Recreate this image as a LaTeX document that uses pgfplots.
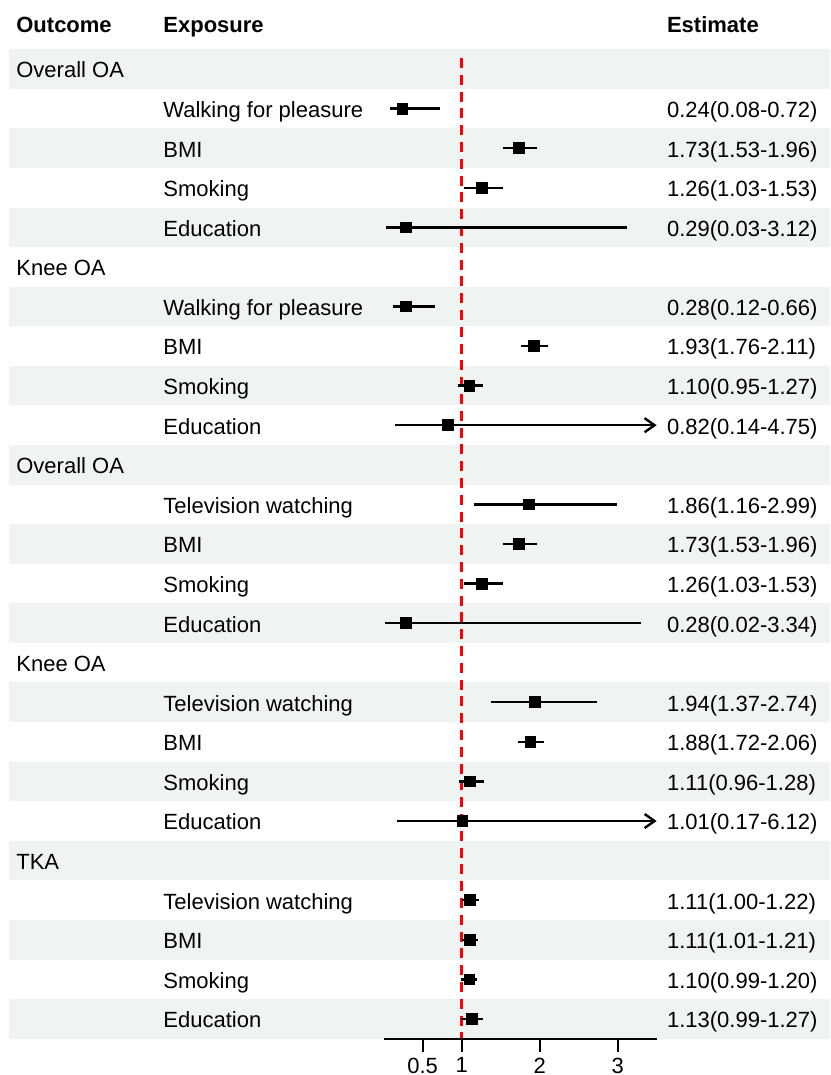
\documentclass[border=0pt]{standalone}
\usepackage{pgfplots}
\pgfplotsset{compat=1.18}
\usepackage{pgfplotstable}
\usepackage{fontspec}
\setmainfont{Liberation Sans}
\usetikzlibrary{arrows.meta}
\definecolor{band}{HTML}{EFF3F2}
\newcommand\fs{\fontsize{11}{13}\selectfont}
\pgfplotstableread{
row est lo hi
2 0.24 0.08 0.72
3 1.73 1.53 1.96
4 1.26 1.03 1.53
5 0.29 0.03 3.12
7 0.28 0.12 0.66
8 1.93 1.76 2.11
9 1.10 0.95 1.27
10 0.82 0.14 4.75
12 1.86 1.16 2.99
13 1.73 1.53 1.96
14 1.26 1.03 1.53
15 0.28 0.02 3.34
17 1.94 1.37 2.74
18 1.88 1.72 2.06
19 1.11 0.96 1.28
20 1.01 0.17 6.12
22 1.11 1.00 1.22
23 1.11 1.01 1.21
24 1.10 0.99 1.20
25 1.13 0.99 1.27
}\data
\begin{document}
\begin{tikzpicture}
\begin{axis}[
 scale only axis, width=136.5pt, height=494.75pt,
 xmin=0, xmax=3.5, ymin=-25.5, ymax=-0.5,
 axis x line=bottom, axis y line=none,
 axis line style={-, line width=1pt, black},
 xtick={0.5,1,2,3}, xticklabels={0.5,1,2,3},
 tick align=outside, major tick length=6.5pt,
 tick style={line width=1pt, black},
 xticklabel style={font=\fs, anchor=north, inner sep=0pt, yshift=-2.85pt},
 /pgf/number format/assume math mode=true,
 clip=false, axis on top,
]
% background bands
\fill[band] (axis cs:-4.804,-0.5) rectangle (axis cs:5.722,-1.5);
\fill[band] (axis cs:-4.804,-2.5) rectangle (axis cs:5.722,-3.5);
\fill[band] (axis cs:-4.804,-4.5) rectangle (axis cs:5.722,-5.5);
\fill[band] (axis cs:-4.804,-6.5) rectangle (axis cs:5.722,-7.5);
\fill[band] (axis cs:-4.804,-8.5) rectangle (axis cs:5.722,-9.5);
\fill[band] (axis cs:-4.804,-10.5) rectangle (axis cs:5.722,-11.5);
\fill[band] (axis cs:-4.804,-12.5) rectangle (axis cs:5.722,-13.5);
\fill[band] (axis cs:-4.804,-14.5) rectangle (axis cs:5.722,-15.5);
\fill[band] (axis cs:-4.804,-16.5) rectangle (axis cs:5.722,-17.5);
\fill[band] (axis cs:-4.804,-18.5) rectangle (axis cs:5.722,-19.5);
\fill[band] (axis cs:-4.804,-20.5) rectangle (axis cs:5.722,-21.5);
\fill[band] (axis cs:-4.804,-22.5) rectangle (axis cs:5.722,-23.5);
\fill[band] (axis cs:-4.804,-24.5) rectangle (axis cs:5.722,-25.5);
% reference line
\addplot[red, line width=1.2pt, dash pattern=on 5pt off 3.4pt] coordinates {(1,-0.722) (1,-25.5)};
% CIs
\addplot[black, only marks, mark=none,
  error bars/.cd, x dir=both, x explicit, error mark=none,
  error bar style={black, solid, line width=1.2pt}]
  table[x=est, y expr=-\thisrow{row},
        x error plus expr={min(\thisrow{hi},3.3)-\thisrow{est}},
        x error minus expr={\thisrow{est}-\thisrow{lo}}] {\data};
\addplot[black, line width=1.2pt, -{Straight Barb[length=5pt,width=7pt]}] coordinates {(3.2,-10) (3.5,-10)};
\addplot[black, line width=1.2pt, -{Straight Barb[length=5pt,width=7pt]}] coordinates {(3.2,-20) (3.5,-20)};
% estimates
\addplot[black, only marks, mark=square*, mark size=2.7pt] table[x=est, y expr=-\thisrow{row}] {\data};
% header
\node[anchor=base west, inner sep=0pt, font=\fs\bfseries] at (axis cs:-4.714,-0.073) {Outcome};
\node[anchor=base west, inner sep=0pt, font=\fs\bfseries] at (axis cs:-2.829,-0.073) {Exposure};
\node[anchor=base west, inner sep=0pt, font=\fs\bfseries] at (axis cs:3.628,-0.073) {Estimate};
% outcome labels
\node[anchor=base west, inner sep=0pt, font=\fs] at (axis cs:-4.714,-1.225) {Overall OA};
\node[anchor=base west, inner sep=0pt, font=\fs] at (axis cs:-4.714,-6.225) {Knee OA};
\node[anchor=base west, inner sep=0pt, font=\fs] at (axis cs:-4.714,-11.225) {Overall OA};
\node[anchor=base west, inner sep=0pt, font=\fs] at (axis cs:-4.714,-16.225) {Knee OA};
\node[anchor=base west, inner sep=0pt, font=\fs] at (axis cs:-4.714,-21.225) {TKA};
% exposure labels
\node[anchor=base west, inner sep=0pt, font=\fs] at (axis cs:-2.829,-2.225) {Walking for pleasure};
\node[anchor=base west, inner sep=0pt, font=\fs] at (axis cs:-2.829,-3.225) {BMI};
\node[anchor=base west, inner sep=0pt, font=\fs] at (axis cs:-2.829,-4.225) {Smoking};
\node[anchor=base west, inner sep=0pt, font=\fs] at (axis cs:-2.829,-5.225) {Education};
\node[anchor=base west, inner sep=0pt, font=\fs] at (axis cs:-2.829,-7.225) {Walking for pleasure};
\node[anchor=base west, inner sep=0pt, font=\fs] at (axis cs:-2.829,-8.225) {BMI};
\node[anchor=base west, inner sep=0pt, font=\fs] at (axis cs:-2.829,-9.225) {Smoking};
\node[anchor=base west, inner sep=0pt, font=\fs] at (axis cs:-2.829,-10.225) {Education};
\node[anchor=base west, inner sep=0pt, font=\fs] at (axis cs:-2.829,-12.225) {Television watching};
\node[anchor=base west, inner sep=0pt, font=\fs] at (axis cs:-2.829,-13.225) {BMI};
\node[anchor=base west, inner sep=0pt, font=\fs] at (axis cs:-2.829,-14.225) {Smoking};
\node[anchor=base west, inner sep=0pt, font=\fs] at (axis cs:-2.829,-15.225) {Education};
\node[anchor=base west, inner sep=0pt, font=\fs] at (axis cs:-2.829,-17.225) {Television watching};
\node[anchor=base west, inner sep=0pt, font=\fs] at (axis cs:-2.829,-18.225) {BMI};
\node[anchor=base west, inner sep=0pt, font=\fs] at (axis cs:-2.829,-19.225) {Smoking};
\node[anchor=base west, inner sep=0pt, font=\fs] at (axis cs:-2.829,-20.225) {Education};
\node[anchor=base west, inner sep=0pt, font=\fs] at (axis cs:-2.829,-22.225) {Television watching};
\node[anchor=base west, inner sep=0pt, font=\fs] at (axis cs:-2.829,-23.225) {BMI};
\node[anchor=base west, inner sep=0pt, font=\fs] at (axis cs:-2.829,-24.225) {Smoking};
\node[anchor=base west, inner sep=0pt, font=\fs] at (axis cs:-2.829,-25.225) {Education};
% estimate labels
\node[anchor=base west, inner sep=0pt, font=\fs] at (axis cs:3.628,-2.225) {0.24(0.08-0.72)};
\node[anchor=base west, inner sep=0pt, font=\fs] at (axis cs:3.628,-3.225) {1.73(1.53-1.96)};
\node[anchor=base west, inner sep=0pt, font=\fs] at (axis cs:3.628,-4.225) {1.26(1.03-1.53)};
\node[anchor=base west, inner sep=0pt, font=\fs] at (axis cs:3.628,-5.225) {0.29(0.03-3.12)};
\node[anchor=base west, inner sep=0pt, font=\fs] at (axis cs:3.628,-7.225) {0.28(0.12-0.66)};
\node[anchor=base west, inner sep=0pt, font=\fs] at (axis cs:3.628,-8.225) {1.93(1.76-2.11)};
\node[anchor=base west, inner sep=0pt, font=\fs] at (axis cs:3.628,-9.225) {1.10(0.95-1.27)};
\node[anchor=base west, inner sep=0pt, font=\fs] at (axis cs:3.628,-10.225) {0.82(0.14-4.75)};
\node[anchor=base west, inner sep=0pt, font=\fs] at (axis cs:3.628,-12.225) {1.86(1.16-2.99)};
\node[anchor=base west, inner sep=0pt, font=\fs] at (axis cs:3.628,-13.225) {1.73(1.53-1.96)};
\node[anchor=base west, inner sep=0pt, font=\fs] at (axis cs:3.628,-14.225) {1.26(1.03-1.53)};
\node[anchor=base west, inner sep=0pt, font=\fs] at (axis cs:3.628,-15.225) {0.28(0.02-3.34)};
\node[anchor=base west, inner sep=0pt, font=\fs] at (axis cs:3.628,-17.225) {1.94(1.37-2.74)};
\node[anchor=base west, inner sep=0pt, font=\fs] at (axis cs:3.628,-18.225) {1.88(1.72-2.06)};
\node[anchor=base west, inner sep=0pt, font=\fs] at (axis cs:3.628,-19.225) {1.11(0.96-1.28)};
\node[anchor=base west, inner sep=0pt, font=\fs] at (axis cs:3.628,-20.225) {1.01(0.17-6.12)};
\node[anchor=base west, inner sep=0pt, font=\fs] at (axis cs:3.628,-22.225) {1.11(1.00-1.22)};
\node[anchor=base west, inner sep=0pt, font=\fs] at (axis cs:3.628,-23.225) {1.11(1.01-1.21)};
\node[anchor=base west, inner sep=0pt, font=\fs] at (axis cs:3.628,-24.225) {1.10(0.99-1.20)};
\node[anchor=base west, inner sep=0pt, font=\fs] at (axis cs:3.628,-25.225) {1.13(0.99-1.27)};
\coordinate (bbA) at (axis cs:-4.919,0.743);
\coordinate (bbB) at (axis cs:5.7237,-26.417);
\end{axis}
\pgfresetboundingbox
\useasboundingbox (bbA) rectangle (bbB);
\end{tikzpicture}
\end{document}
